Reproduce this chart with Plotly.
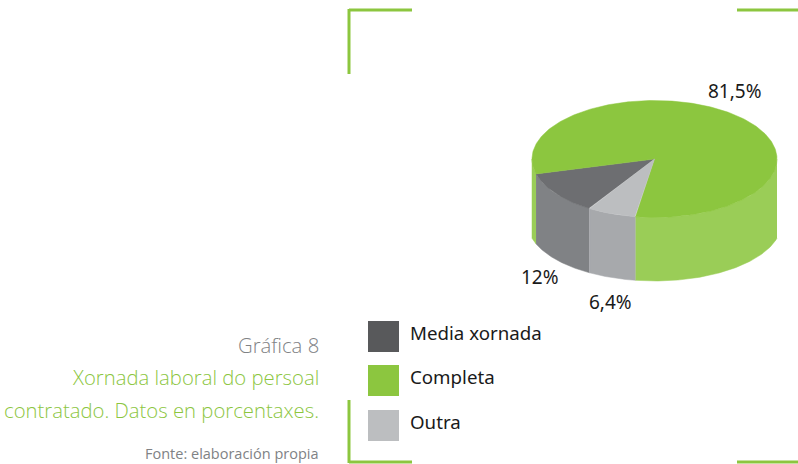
import numpy as np
import plotly.graph_objects as go

categories = ["Media xornada", "Completa", "Outra"]
values = [12, 81.5, 6.4]
value_labels = ["12%", "81,5%", "6,4%"]
title_lines = ["Gráfica 8", "Xornada laboral do persoal", "contratado. Datos en porcentaxes."]
source_text = "Fonte: elaboración propia"

top_colors = ["#6D6E71", "#8CC63F", "#BCBEC0"]
wall_colors = ["#808285", "#9ACD57", "#A7A9AC"]
swatch_colors = ["#58595B", "#8CC63F", "#BCBEC0"]
GREEN = "#8CC63F"
TITLE_GREEN = "#8CC63F"
GREY = "#808285"
FONT = "Noto Sans"
LIGHT_FONT = "Open Sans"

# Projection of the pie onto the page
CX, CY, A, B = 654.5, 159.0, 122.5, 58.5
CY2, A2, B2 = 223.0, 127.0, 58.0
START_DEG = 122.0

def top_xy(t):
    return CX + A * np.cos(t), CY + B * np.sin(t)

def bottom_y(x):
    return CY2 + B2 * np.sqrt(1 - ((x - CX) / A2) ** 2)

fracs = np.array(values) / sum(values)
edges = np.radians(START_DEG) + np.concatenate([[0], np.cumsum(fracs)]) * 2 * np.pi

fig = go.Figure()

def poly(x, y, color, name):
    fig.add_trace(go.Scatter(x=x, y=y, mode="lines", fill="toself", fillcolor=color,
                             line=dict(color=color, width=0.5), name=name,
                             hoverinfo="name", showlegend=False))

# side walls (only the part of each arc that faces the viewer)
for i, name in enumerate(categories):
    t0, t1 = edges[i], edges[i + 1]
    for k in (0, 1):
        lo, hi = max(t0, 2 * k * np.pi), min(t1, (2 * k + 1) * np.pi)
        if hi <= lo:
            continue
        t = np.linspace(lo, hi, 120)
        x, y = top_xy(t)
        yb = bottom_y(x)
        poly(np.r_[x, x[::-1]], np.r_[y, yb[::-1]], wall_colors[i], name)

# top faces
for i, name in enumerate(categories):
    t = np.linspace(edges[i], edges[i + 1], 300)
    x, y = top_xy(t)
    poly(np.r_[CX, x, CX], np.r_[CY, y, CY], top_colors[i], name)

shapes = []
def line(x0, y0, x1, y1):
    shapes.append(dict(type="line", xref="x", yref="y", x0=x0, y0=y0, x1=x1, y1=y1,
                       line=dict(color=GREEN, width=3)))

# crop-mark frame
line(349, 10, 412, 10); line(349, 9, 349, 74); line(737, 10, 798, 10)
line(349, 400, 349, 463); line(349, 462, 412, 462); line(737, 462, 798, 462)

annotations = []
def text(x, y, s, size, color, anchor="left", family=FONT, weight=400):
    annotations.append(dict(x=x, y=y, xref="x", yref="y", text=s, showarrow=False,
                            xanchor=anchor, yanchor="middle", align=anchor,
                            font=dict(family=family, size=size, color=color, weight=weight)))

# legend
for s_top, label, col in zip([321, 365, 410], categories, swatch_colors):
    shapes.append(dict(type="rect", xref="x", yref="y", x0=368, x1=399, y0=s_top, y1=s_top + 31,
                       fillcolor=col, line=dict(width=0)))
    text(408, s_top + 11, label, 18.7, "#1A1A1A")

# value labels
for (x, y), lab in zip([(540, 277), (735, 91), (610, 302)], value_labels):
    text(x, y, lab, 19, "#1A1A1A", "center")

# caption
text(321, 345, title_lines[0], 20.3, GREY, "right", LIGHT_FONT, 300)
text(321, 377, title_lines[1], 20.3, TITLE_GREEN, "right", LIGHT_FONT, 300)
text(321, 410, title_lines[2], 20.3, TITLE_GREEN, "right", LIGHT_FONT, 300)
text(321, 453.5, source_text, 14.5, GREY, "right", LIGHT_FONT, 400)

fig.update_layout(
    width=798, height=464, margin=dict(l=0, r=0, t=0, b=0),
    paper_bgcolor="white", plot_bgcolor="white", showlegend=False,
    xaxis=dict(range=[0, 798], visible=False, fixedrange=True),
    yaxis=dict(range=[464, 0], visible=False, fixedrange=True),
    shapes=shapes, annotations=annotations,
)
fig.write_html("out.html", config={"displayModeBar": False},
               post_script="document.body.style.margin='0';document.body.style.overflow='hidden';")
